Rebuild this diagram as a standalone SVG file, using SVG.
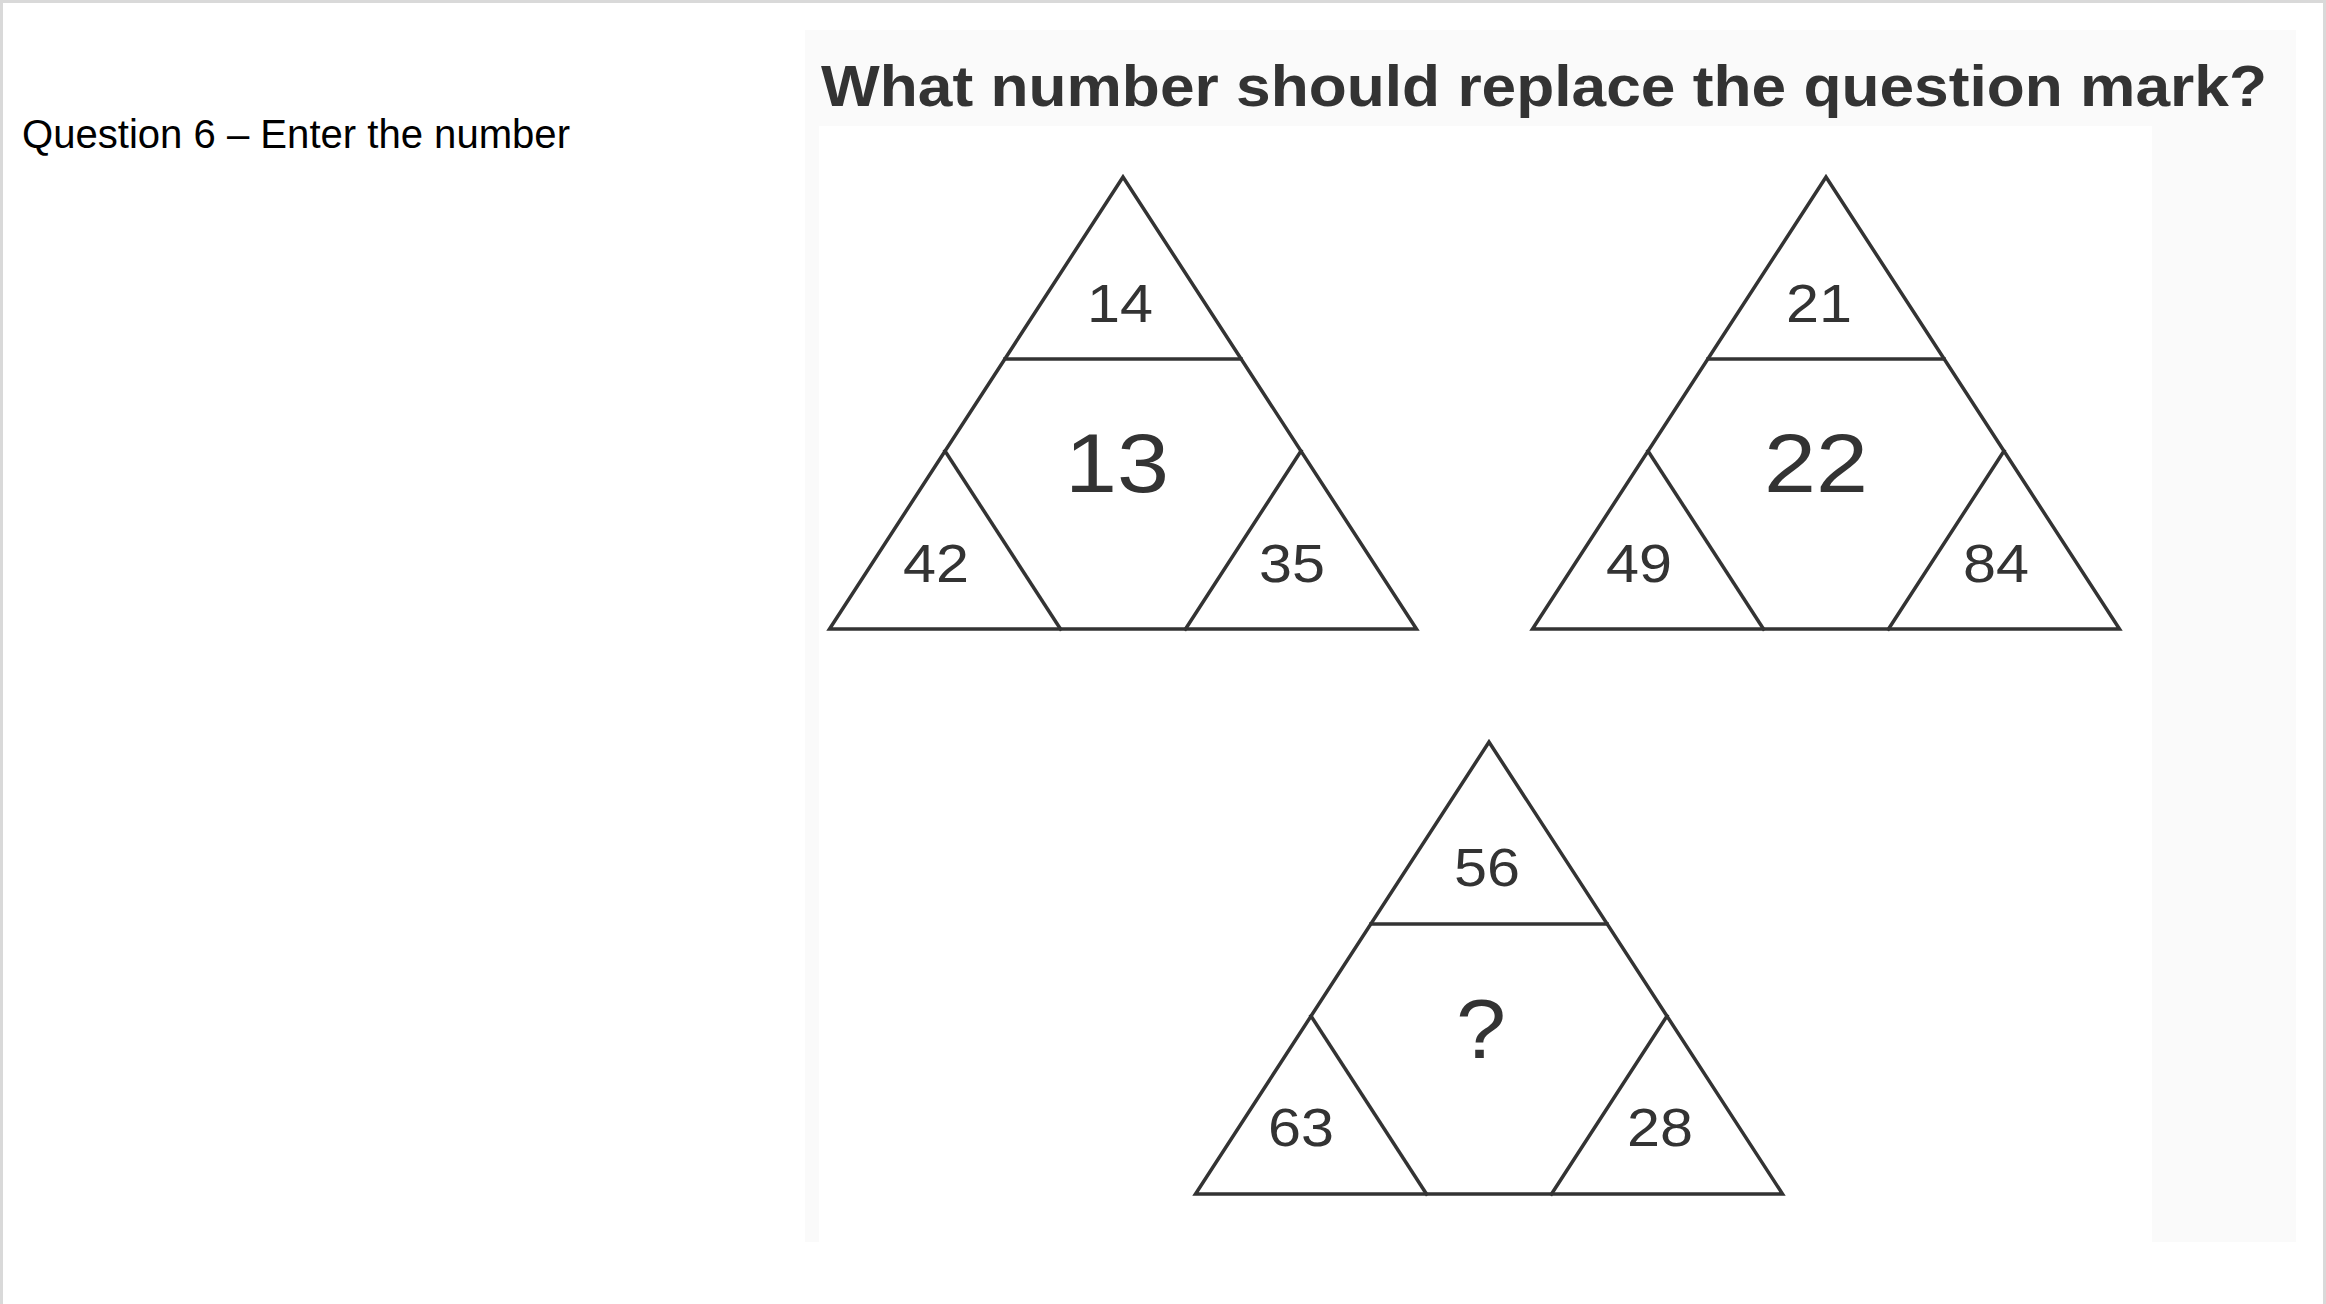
<svg xmlns="http://www.w3.org/2000/svg" xmlns:xlink="http://www.w3.org/1999/xlink" width="2326" height="1304" viewBox="0 0 2326 1304">
<style>
.ln{fill:none;stroke:#333;stroke-width:3.5;stroke-linejoin:miter;stroke-linecap:square}
.sm{font-family:"Liberation Sans",Arial,Helvetica,sans-serif;font-size:54px;fill:#333;text-anchor:middle}
.bg{font-family:"Liberation Sans",Arial,Helvetica,sans-serif;font-size:84px;fill:#333;text-anchor:middle}
</style>
<defs>
<g id="tri-shape" class="ln">
<polygon points="0,0 -293.5,452 293.5,452"/>
<line x1="-118" y1="182" x2="118" y2="182"/>
<line x1="-178" y1="274" x2="-62.5" y2="452"/>
<line x1="178" y1="274" x2="62.5" y2="452"/>
</g>
</defs>
<rect x="0" y="0" width="2326" height="1304" fill="#ffffff"/>
<rect x="0" y="0" width="2326" height="3" fill="#d9d9d9"/>
<rect x="0" y="0" width="3" height="1304" fill="#d9d9d9"/>
<rect x="2323" y="0" width="3" height="1304" fill="#d9d9d9"/>
<g id="panel">
<rect x="805" y="30" width="1491" height="1212" fill="#fafafa"/>
<rect x="819" y="126" width="1333" height="1116" fill="#ffffff"/>
</g>
<g id="question-label">
<text x="22" y="148" font-family="'Liberation Sans',Arial,sans-serif" font-size="40" fill="#000" textLength="548" lengthAdjust="spacingAndGlyphs">Question 6 – Enter the number</text>
</g>
<g id="title">
<text x="821" y="106" font-family="'Liberation Sans',Arial,Helvetica,sans-serif" font-size="58" font-weight="bold" fill="#333" textLength="1446" lengthAdjust="spacingAndGlyphs">What number should replace the question mark?</text>
</g>
<g id="connectors"></g>
<g id="triangle-1" transform="translate(1123,177)">
<use xlink:href="#tri-shape"/>
<text class="sm" x="-3" y="145" textLength="66" lengthAdjust="spacingAndGlyphs">14</text>
<text class="bg" x="-6" y="315" textLength="104" lengthAdjust="spacingAndGlyphs">13</text>
<text class="sm" x="-187" y="405" textLength="66" lengthAdjust="spacingAndGlyphs">42</text>
<text class="sm" x="169" y="405" textLength="66" lengthAdjust="spacingAndGlyphs">35</text>
</g>
<g id="triangle-2" transform="translate(1826,177)">
<use xlink:href="#tri-shape"/>
<text class="sm" x="-7" y="145" textLength="66" lengthAdjust="spacingAndGlyphs">21</text>
<text class="bg" x="-10" y="315" textLength="104" lengthAdjust="spacingAndGlyphs">22</text>
<text class="sm" x="-187" y="405" textLength="66" lengthAdjust="spacingAndGlyphs">49</text>
<text class="sm" x="170" y="405" textLength="66" lengthAdjust="spacingAndGlyphs">84</text>
</g>
<g id="triangle-3" transform="translate(1489,742)">
<use xlink:href="#tri-shape"/>
<text class="sm" x="-2" y="144" textLength="66" lengthAdjust="spacingAndGlyphs">56</text>
<text class="bg" x="-8" y="316" textLength="50" lengthAdjust="spacingAndGlyphs">?</text>
<text class="sm" x="-188" y="404" textLength="66" lengthAdjust="spacingAndGlyphs">63</text>
<text class="sm" x="171" y="404" textLength="66" lengthAdjust="spacingAndGlyphs">28</text>
</g>
</svg>
